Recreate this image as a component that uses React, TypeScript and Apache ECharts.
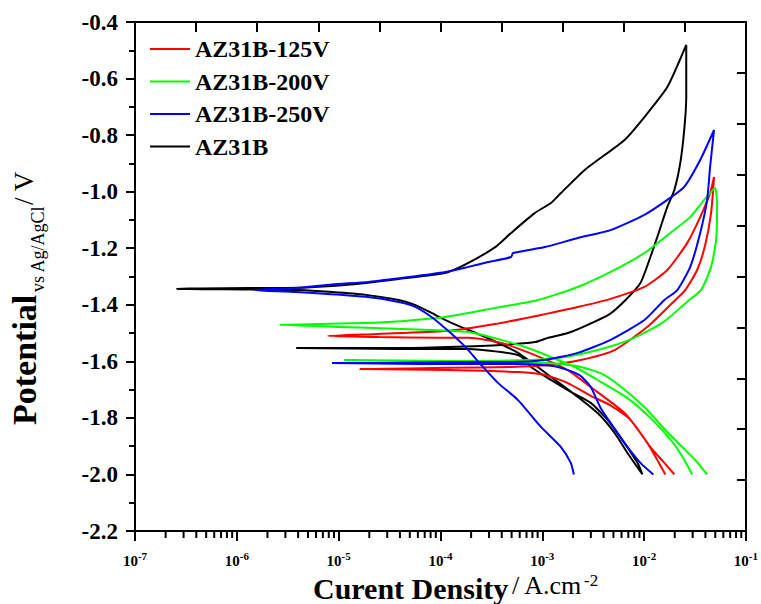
import React, { useEffect, useRef } from 'react';
import * as echarts from 'echarts';

const SERIF = '"Liberation Serif", "Times New Roman", Times, serif';

// x values are log10(current density / A·cm^-2), y values are potential / V
const seriesNames = ['AZ31B-125V', 'AZ31B-200V', 'AZ31B-250V', 'AZ31B'];
const seriesColors = ['#ff0000', '#00ff00', '#0000ff', '#000000'];

const xDecades = [-7, -6, -5, -4, -3, -2, -1];
const minorMultipliers = [2, 3, 4, 5, 6, 7, 8, 9];
const yMin = -2.2;
const yMax = -0.4;

const az31b125V: [number, number][] = [
  [-1.791, -2.0], [-1.87, -1.949], [-1.967, -1.889], [-2.192, -1.783], [-2.524, -1.691], [-2.749, -1.631],
  [-3.072, -1.578], [-3.404, -1.535], [-3.726, -1.517], [-4.019, -1.517], [-4.606, -1.514], [-5.104, -1.51],
  [-4.606, -1.503], [-3.951, -1.493], [-3.462, -1.468], [-2.974, -1.433], [-2.651, -1.408], [-2.329, -1.379],
  [-1.997, -1.337], [-1.772, -1.277], [-1.576, -1.181], [-1.449, -1.09], [-1.352, -1.005], [-1.313, -0.948],
  [-1.342, -1.075], [-1.4, -1.189], [-1.479, -1.277], [-1.596, -1.348], [-1.713, -1.39], [-1.967, -1.478],
  [-2.29, -1.56], [-2.622, -1.595], [-2.944, -1.613], [-3.306, -1.62], [-3.922, -1.623], [-4.791, -1.627],
  [-3.922, -1.631], [-3.238, -1.638], [-2.974, -1.648], [-2.749, -1.677], [-2.524, -1.722], [-2.339, -1.754],
  [-2.133, -1.807], [-1.938, -1.903], [-1.801, -1.959], [-1.703, -2.0],
];

const az31b200V: [number, number][] = [
  [-1.528, -2.0], [-1.616, -1.942], [-1.723, -1.885], [-1.918, -1.807], [-2.163, -1.73], [-2.456, -1.666],
  [-2.681, -1.62], [-2.915, -1.585], [-3.14, -1.553], [-3.404, -1.524], [-3.726, -1.496], [-4.088, -1.489],
  [-4.8, -1.48], [-5.583, -1.471],
  [-4.606, -1.463], [-3.951, -1.443], [-3.462, -1.411], [-3.042, -1.383], [-2.651, -1.337], [-2.329, -1.284],
  [-1.997, -1.217], [-1.743, -1.146], [-1.547, -1.09], [-1.41, -1.029], [-1.303, -0.987],
  [-1.283, -1.054], [-1.293, -1.171], [-1.342, -1.266], [-1.44, -1.348], [-1.557, -1.383], [-1.821, -1.464],
  [-2.143, -1.524], [-2.456, -1.56], [-2.778, -1.585], [-3.111, -1.595], [-3.922, -1.599], [-4.948, -1.595],
  [-3.922, -1.602], [-2.944, -1.606], [-2.622, -1.62], [-2.407, -1.645], [-2.212, -1.694], [-1.987, -1.765],
  [-1.791, -1.843], [-1.625, -1.903], [-1.498, -1.949], [-1.381, -2.0],
];

const az31b250V: [number, number][] = [
  [-2.69, -2.0], [-2.72, -1.959], [-2.817, -1.903], [-3.013, -1.832], [-3.238, -1.737], [-3.433, -1.677],
  [-3.599, -1.613], [-3.756, -1.549], [-3.922, -1.493], [-4.088, -1.443], [-4.244, -1.408], [-4.41, -1.39],
  [-4.733, -1.372], [-5.417, -1.355], [-5.827, -1.348],
  [-5.417, -1.341], [-5.065, -1.328], [-4.704, -1.319], [-4.313, -1.302], [-3.951, -1.284], [-3.726, -1.266],
  [-3.531, -1.249], [-3.306, -1.231], [-3.287, -1.217], [-2.974, -1.196], [-2.651, -1.164], [-2.329, -1.136],
  [-1.997, -1.082], [-1.772, -1.029], [-1.606, -0.983], [-1.449, -0.888], [-1.313, -0.782],
  [-1.352, -0.913], [-1.381, -1.029], [-1.449, -1.146], [-1.547, -1.266], [-1.674, -1.348], [-1.801, -1.383],
  [-1.997, -1.454], [-2.329, -1.524], [-2.651, -1.57], [-2.974, -1.595], [-3.306, -1.602], [-3.922, -1.602],
  [-4.606, -1.606], [-5.065, -1.606],
  [-4.215, -1.609], [-3.238, -1.609], [-2.915, -1.616], [-2.749, -1.631], [-2.622, -1.652], [-2.524, -1.691],
  [-2.427, -1.765], [-2.329, -1.818], [-2.192, -1.889], [-2.036, -1.959], [-1.909, -2.0],
];

const az31b: [number, number][] = [
  [-2.016, -2.0], [-2.163, -1.924], [-2.29, -1.853], [-2.456, -1.783], [-2.651, -1.726], [-2.915, -1.655],
  [-3.238, -1.57], [-3.56, -1.514], [-3.892, -1.464], [-4.088, -1.429], [-4.244, -1.401], [-4.41, -1.383],
  [-4.733, -1.365], [-5.065, -1.355], [-5.388, -1.348], [-5.876, -1.346], [-6.59, -1.344],
  [-6.365, -1.342], [-5.876, -1.341], [-5.388, -1.34], [-5.065, -1.334], [-4.733, -1.323], [-4.41, -1.309],
  [-4.088, -1.295], [-3.922, -1.284], [-3.726, -1.252], [-3.462, -1.196], [-3.306, -1.146], [-3.072, -1.075],
  [-2.915, -1.04], [-2.817, -1.005], [-2.583, -0.923], [-2.192, -0.817], [-1.997, -0.736], [-1.772, -0.63],
  [-1.586, -0.481],
  [-1.586, -0.665], [-1.606, -0.782], [-1.645, -0.899], [-1.703, -0.994], [-1.772, -1.054], [-1.87, -1.16],
  [-1.938, -1.231], [-2.036, -1.323], [-2.182, -1.383], [-2.339, -1.433], [-2.554, -1.471], [-2.749, -1.5],
  [-2.944, -1.517], [-3.072, -1.532], [-3.404, -1.542], [-3.922, -1.549], [-4.41, -1.553], [-5.417, -1.553],
  [-4.41, -1.556], [-3.726, -1.556], [-3.404, -1.567], [-3.238, -1.578], [-3.169, -1.595], [-3.111, -1.62],
  [-2.915, -1.666], [-2.72, -1.708], [-2.524, -1.747], [-2.358, -1.807], [-2.192, -1.889], [-2.065, -1.959],
  [-2.016, -2.0],
];

const seriesData = [az31b125V, az31b200V, az31b250V, az31b];

function textEl(text: string, x: number, y: number, fontSize: number, bold: boolean, rotation = 0) {
  return {
    type: 'text',
    x,
    y,
    rotation,
    silent: true,
    style: {
      text,
      fontFamily: SERIF,
      fontWeight: bold ? 'bold' : 'normal',
      fontSize,
      fill: '#000',
      align: 'left',
      verticalAlign: 'middle',
      textAlign: 'left',
      textVerticalAlign: 'middle',
    },
  };
}

export default function App() {
  const ref = useRef<HTMLDivElement>(null);

  useEffect(() => {
    document.body.style.margin = '0';
    if (!ref.current) return;
    const chart = echarts.init(ref.current, undefined, { renderer: 'svg' });

    // log-decade minor tick positions on the bottom axis
    const minorTickData: [number, number][] = [];
    for (let i = 0; i < xDecades.length - 1; i++) {
      for (const m of minorMultipliers) {
        minorTickData.push([xDecades[i] + Math.log10(m), yMin]);
      }
    }

    const lineSeries = seriesNames.map((name, i) => ({
      name,
      type: 'line',
      xAxisIndex: 0,
      yAxisIndex: 0,
      data: seriesData[i],
      showSymbol: false,
      symbol: 'none',
      smooth: 0.2,
      lineStyle: { color: seriesColors[i], width: 2 },
      itemStyle: { color: seriesColors[i] },
      z: 3,
    }));
    const ordered = [lineSeries[3], lineSeries[0], lineSeries[1], lineSeries[2]];

    const option: any = {
      animation: false,
      backgroundColor: '#ffffff',
      grid: { left: 135, right: 12, top: 22, bottom: 73, containLabel: false },
      legend: {
        data: seriesNames,
        orient: 'vertical',
        left: 150,
        top: 37,
        padding: 0,
        itemWidth: 40,
        itemHeight: 2,
        itemGap: 8.5,
        icon: 'rect',
        textStyle: { fontFamily: SERIF, fontWeight: 'bold', fontSize: 24, color: '#000', lineHeight: 24 },
      },
      xAxis: [
        {
          type: 'value',
          min: -7,
          max: -1,
          interval: 1,
          position: 'bottom',
          splitLine: { show: false },
          axisLine: { show: true, lineStyle: { color: '#000', width: 2 } },
          axisTick: { show: true, length: 10, lineStyle: { color: '#000', width: 2 } },
          axisLabel: {
            show: true,
            margin: 19,
            formatter: (v: number) => '{b|10}{s|' + Math.round(v) + '}',
            rich: {
              b: { fontFamily: SERIF, fontWeight: 'bold', fontSize: 15, lineHeight: 22, color: '#000' },
              s: { fontFamily: SERIF, fontWeight: 'bold', fontSize: 11, lineHeight: 11, verticalAlign: 'top', color: '#000' },
            },
          },
        },
        {
          type: 'value',
          min: 0,
          max: 10,
          interval: 1,
          position: 'top',
          splitLine: { show: false },
          axisLine: { show: true, onZero: false, lineStyle: { color: '#000', width: 2 } },
          axisTick: { show: true, inside: true, length: 10, lineStyle: { color: '#000', width: 2 } },
          axisLabel: { show: false },
        },
      ],
      yAxis: [
        {
          type: 'value',
          min: yMin,
          max: yMax,
          interval: 0.2,
          position: 'left',
          splitLine: { show: false },
          axisLine: { show: true, onZero: false, lineStyle: { color: '#000', width: 2 } },
          axisTick: { show: true, length: 9, lineStyle: { color: '#000', width: 2 } },
          minorTick: { show: true, splitNumber: 2, length: 6, lineStyle: { color: '#000', width: 2 } },
          axisLabel: {
            show: true,
            margin: 17,
            fontFamily: SERIF,
            fontWeight: 'bold',
            fontSize: 23,
            color: '#000',
            formatter: (v: number) => v.toFixed(1),
          },
        },
        {
          type: 'value',
          min: 0,
          max: 10,
          interval: 1,
          position: 'right',
          splitLine: { show: false },
          axisLine: { show: true, onZero: false, lineStyle: { color: '#000', width: 2 } },
          axisTick: { show: true, inside: true, length: 9, lineStyle: { color: '#000', width: 2 } },
          axisLabel: { show: false },
        },
      ],
      series: [
        ...ordered,
        {
          type: 'scatter',
          name: 'minorTicks',
          silent: true,
          clip: false,
          xAxisIndex: 0,
          yAxisIndex: 0,
          data: minorTickData,
          symbol: 'rect',
          symbolSize: [2, 7],
          symbolOffset: [0, 3.5],
          itemStyle: { color: '#000', opacity: 1 },
          z: 10,
        },
      ],
      graphic: [
        textEl('Curent Density', 313, 588, 30, true),
        textEl('/ A.cm', 512, 585, 26, false),
        textEl('-2', 584, 580, 17, false),
        textEl('Potential', 24, 425, 34, true, Math.PI / 2),
        textEl('vs Ag/AgCl', 38, 292, 18, false, Math.PI / 2),
        textEl('/ V', 24, 205, 27, false, Math.PI / 2),
      ],
    };

    chart.setOption(option);
    return () => {
      chart.dispose();
    };
  }, []);

  return <div ref={ref} style={{ width: 761, height: 604, position: 'absolute', left: 0, top: 0 }} />;
}
